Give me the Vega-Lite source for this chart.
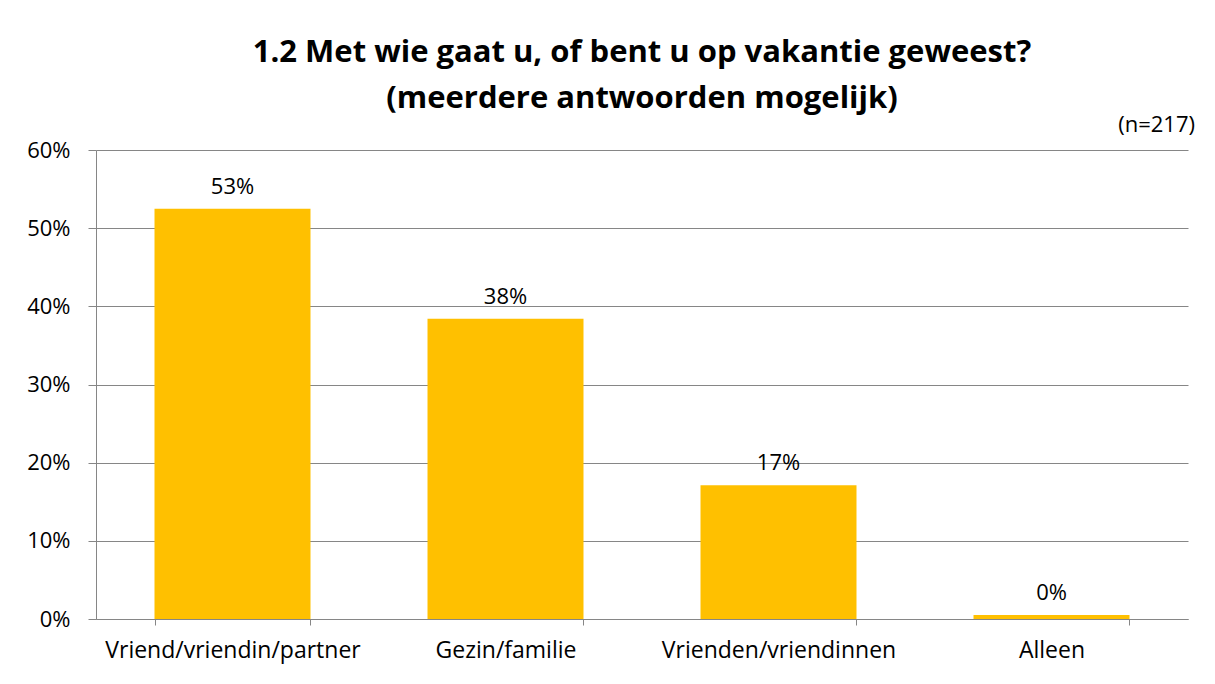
{
  "$schema": "https://vega.github.io/schema/vega-lite/v6.json",
  "width": 1092,
  "height": 469,
  "autosize": {"type": "none"},
  "padding": {"left": 96, "top": 150, "right": 27, "bottom": 65},
  "background": "white",
  "title": {
    "text": ["1.2 Met wie gaat u, of bent u op vakantie geweest?", "(meerdere antwoorden mogelijk)"],
    "font": "Open Sans",
    "fontSize": 31,
    "fontWeight": "bold",
    "color": "#000000",
    "lineHeight": 46,
    "anchor": "middle",
    "offset": -1
  },
  "data": {
    "values": [
      {"category": "Vriend/vriendin/partner", "pct": 52.5, "label": "53%"},
      {"category": "Gezin/familie", "pct": 38.4, "label": "38%"},
      {"category": "Vrienden/vriendinnen", "pct": 17.1, "label": "17%"},
      {"category": "Alleen", "pct": 0.5, "label": "0%"}
    ]
  },
  "encoding": {
    "x": {
      "field": "category",
      "type": "nominal",
      "sort": null,
      "scale": {"paddingInner": 0.4286, "paddingOuter": 0.2143},
      "axis": {
        "title": null,
        "labelAngle": 0,
        "labelFont": "Open Sans",
        "labelFontSize": 23,
        "labelLimit": 0,
        "labelColor": "#000000",
        "labelPadding": 14,
        "tickBand": "extent",
        "tickSize": 6,
        "tickColor": "#868686",
        "domainColor": "#868686",
        "grid": false
      }
    }
  },
  "layer": [
    {
      "mark": {"type": "bar", "color": "#FFC000"},
      "encoding": {
        "y": {
          "field": "pct",
          "type": "quantitative",
          "scale": {"domain": [0, 60], "nice": false},
          "axis": {
            "title": null,
            "values": [0, 10, 20, 30, 40, 50, 60],
            "labelExpr": "datum.value + '%'",
            "labelFont": "Open Sans",
            "labelFontSize": 22,
            "labelColor": "#000000",
            "labelPadding": 18,
            "tickSize": 8,
            "tickColor": "#868686",
            "domainColor": "#868686",
            "gridColor": "#868686",
            "grid": true
          }
        }
      }
    },
    {
      "mark": {"type": "text", "font": "Open Sans", "fontSize": 22, "color": "#000000", "baseline": "middle", "dy": -22},
      "encoding": {
        "y": {"field": "pct", "type": "quantitative"},
        "text": {"field": "label"}
      }
    },
    {
      "data": {"values": [{"note": "(n=217)"}]},
      "mark": {"type": "text", "font": "Open Sans", "fontSize": 22, "color": "#000000", "align": "right", "baseline": "middle", "dx": 7, "dy": -25},
      "encoding": {
        "x": {"value": "width"},
        "y": {"datum": 60, "type": "quantitative"},
        "text": {"field": "note"}
      }
    }
  ],
  "config": {
    "view": {"stroke": null}
  }
}
